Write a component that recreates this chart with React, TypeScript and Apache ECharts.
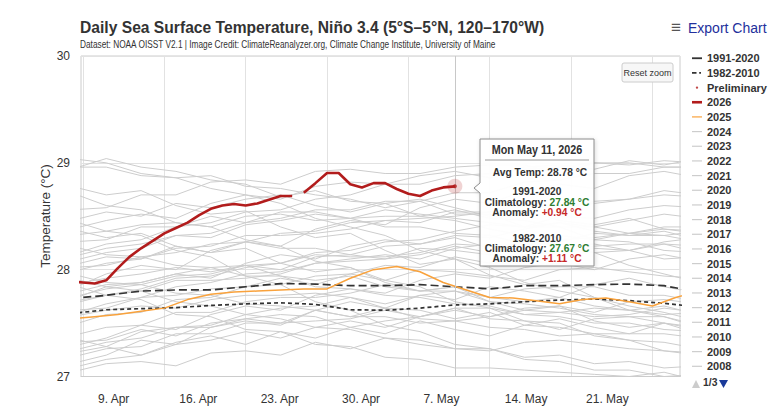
import React, { useEffect, useRef } from "react";
import * as echarts from "echarts";

const FONT = "'Liberation Sans', Arial, sans-serif";

// x values are days counted from 2 Apr (9 Apr = 7, 7 May = 35)
const tickDays = [7, 14, 21, 28, 35, 42, 49, 56];
const labelDays = [7, 14, 21, 28, 35, 42, 49];
const tickLabels = ["9. Apr", "16. Apr", "23. Apr", "30. Apr", "7. May", "14. May", "21. May"];

// 2026 daily means (a short break in the record between 27 and 28 Apr)
const days2026a = [6, 7, 8, 9, 10, 11, 12, 13, 14, 15, 16, 17, 18, 19, 20, 21, 22, 23, 24, 25];
const temp2026a = [27.89, 27.88, 27.87, 27.9, 28.015, 28.12, 28.2, 28.27, 28.34, 28.39, 28.44, 28.51, 28.57, 28.6, 28.615, 28.6, 28.62, 28.655, 28.69, 28.69];
const days2026b = [26, 27, 28, 29, 30, 31, 32, 33, 34, 35, 36, 37, 38, 39];
const temp2026b = [28.72, 28.81, 28.905, 28.905, 28.8, 28.77, 28.81, 28.81, 28.755, 28.71, 28.69, 28.74, 28.77, 28.78];

const days2025 = [6, 8, 10, 12, 14, 16, 18, 20, 22, 24, 26, 28, 30, 32, 34, 36, 38, 40, 42, 44, 46, 48, 50, 52, 54, 56, 58, 60];
const temp2025 = [27.54, 27.56, 27.58, 27.61, 27.64, 27.72, 27.77, 27.79, 27.8, 27.81, 27.82, 27.82, 27.92, 28.0, 28.03, 27.98, 27.88, 27.81, 27.74, 27.735, 27.71, 27.68, 27.72, 27.735, 27.7, 27.66, 27.74, 27.8];

// climatologies and past years share the same 3-day grid
const yearDays = [6, 9, 12, 15, 18, 21, 24, 27, 30, 33, 36, 39, 42, 45, 48, 51, 54, 57, 60];
const clim9120 = [27.73, 27.76, 27.8, 27.81, 27.81, 27.84, 27.87, 27.865, 27.85, 27.85, 27.86, 27.84, 27.82, 27.85, 27.85, 27.86, 27.865, 27.85, 27.79];
const clim8210 = [27.59, 27.625, 27.635, 27.645, 27.665, 27.68, 27.69, 27.675, 27.625, 27.62, 27.64, 27.67, 27.68, 27.7, 27.715, 27.725, 27.71, 27.685, 27.65];

const sst2024 = [28.78, 28.7, 28.74, 28.6, 28.52, 28.55, 28.4, 28.3, 28.34, 28.18, 28.05, 28.1, 27.95, 27.86, 27.9, 27.74, 27.66, 27.6, 27.52];
const sst2023 = [27.82, 27.96, 28.04, 28.0, 28.18, 28.26, 28.22, 28.38, 28.46, 28.42, 28.58, 28.66, 28.62, 28.74, 28.8, 28.76, 28.88, 28.92, 28.86];
const sst2022 = [27.22, 27.28, 27.2, 27.32, 27.38, 27.3, 27.42, 27.36, 27.46, 27.4, 27.52, 27.44, 27.38, 27.48, 27.54, 27.46, 27.4, 27.5, 27.44];
const sst2021 = [27.12, 27.2, 27.34, 27.3, 27.46, 27.52, 27.48, 27.62, 27.7, 27.64, 27.76, 27.72, 27.84, 27.8, 27.74, 27.86, 27.92, 27.84, 27.78];
const sst2020 = [28.38, 28.3, 28.34, 28.22, 28.16, 28.2, 28.06, 27.98, 28.02, 27.88, 27.8, 27.84, 27.7, 27.62, 27.66, 27.52, 27.46, 27.5, 27.4];
const sst2019 = [28.46, 28.54, 28.5, 28.62, 28.58, 28.66, 28.7, 28.6, 28.54, 28.62, 28.66, 28.58, 28.5, 28.56, 28.46, 28.42, 28.48, 28.38, 28.34];
const sst2018 = [27.28, 27.36, 27.48, 27.44, 27.58, 27.66, 27.62, 27.76, 27.82, 27.78, 27.9, 27.96, 27.92, 28.02, 28.06, 28.0, 28.1, 28.14, 28.08];
const sst2017 = [27.72, 27.84, 27.88, 27.96, 27.92, 28.06, 28.14, 28.1, 28.22, 28.28, 28.24, 28.32, 28.3, 28.38, 28.44, 28.4, 28.46, 28.52, 28.48];
const sst2016 = [29.04, 29.0, 28.9, 28.86, 28.76, 28.7, 28.62, 28.48, 28.4, 28.32, 28.18, 28.1, 28.02, 27.88, 27.8, 27.74, 27.62, 27.56, 27.46];
const sst2015 = [28.38, 28.46, 28.52, 28.48, 28.62, 28.7, 28.66, 28.78, 28.82, 28.8, 28.88, 28.92, 28.86, 28.96, 28.98, 28.94, 29.02, 28.98, 29.04];
const sst2014 = [28.12, 28.2, 28.24, 28.32, 28.3, 28.42, 28.46, 28.52, 28.48, 28.56, 28.52, 28.48, 28.44, 28.4, 28.44, 28.36, 28.32, 28.36, 28.28];
const sst2013 = [27.86, 27.92, 27.96, 28.02, 27.98, 28.04, 27.94, 27.9, 27.94, 27.84, 27.8, 27.84, 27.74, 27.7, 27.74, 27.66, 27.62, 27.66, 27.58];
const sst2012 = [27.58, 27.68, 27.74, 27.84, 27.88, 27.96, 27.98, 28.06, 28.1, 28.14, 28.1, 28.2, 28.24, 28.22, 28.32, 28.28, 28.34, 28.38, 28.36];
const sst2011 = [27.24, 27.32, 27.36, 27.46, 27.48, 27.58, 27.64, 27.66, 27.74, 27.68, 27.76, 27.8, 27.7, 27.68, 27.64, 27.58, 27.56, 27.5, 27.46];
const sst2010 = [28.72, 28.6, 28.56, 28.44, 28.4, 28.28, 28.22, 28.08, 28.02, 27.9, 27.84, 27.7, 27.64, 27.52, 27.5, 27.38, 27.34, 27.24, 27.22];
const sst2009 = [27.68, 27.76, 27.82, 27.92, 27.94, 28.02, 28.06, 28.16, 28.18, 28.26, 28.28, 28.36, 28.42, 28.4, 28.5, 28.48, 28.56, 28.6, 28.58];
const sst2008 = [27.08, 27.16, 27.2, 27.3, 27.34, 27.42, 27.36, 27.46, 27.52, 27.46, 27.56, 27.62, 27.56, 27.64, 27.66, 27.6, 27.7, 27.72, 27.68];
const sst2007 = [27.92, 27.84, 27.8, 27.7, 27.66, 27.58, 27.54, 27.46, 27.44, 27.36, 27.34, 27.26, 27.26, 27.18, 27.2, 27.12, 27.14, 27.08, 27.1];
const sst2006 = [27.48, 27.58, 27.6, 27.72, 27.74, 27.84, 27.86, 27.94, 27.96, 28.04, 28.02, 28.12, 28.06, 28.14, 28.16, 28.2, 28.18, 28.24, 28.22];
const sst2005 = [28.32, 28.36, 28.42, 28.44, 28.4, 28.5, 28.52, 28.46, 28.48, 28.4, 28.4, 28.34, 28.32, 28.24, 28.24, 28.16, 28.18, 28.1, 28.12];
const sst2004 = [27.78, 27.86, 27.88, 27.96, 28.02, 28.04, 28.0, 28.12, 28.14, 28.1, 28.2, 28.18, 28.14, 28.12, 28.2, 28.24, 28.18, 28.26, 28.3];
const sst2003 = [27.96, 27.88, 27.86, 27.78, 27.76, 27.68, 27.66, 27.62, 27.56, 27.56, 27.5, 27.52, 27.56, 27.62, 27.6, 27.56, 27.58, 27.64, 27.6];
const sst2002 = [28.02, 28.04, 28.12, 28.16, 28.24, 28.26, 28.34, 28.36, 28.44, 28.46, 28.44, 28.54, 28.54, 28.6, 28.6, 28.62, 28.66, 28.7, 28.68];
const sst2001 = [27.62, 27.64, 27.74, 27.76, 27.82, 27.84, 27.92, 27.86, 27.96, 27.9, 28.0, 27.98, 27.94, 27.9, 28.0, 28.02, 27.98, 27.94, 27.92];
const sst2000 = [27.18, 27.26, 27.28, 27.4, 27.4, 27.5, 27.5, 27.52, 27.54, 27.62, 27.56, 27.64, 27.64, 27.58, 27.6, 27.64, 27.62, 27.58, 27.6];
const sst1999 = [27.04, 27.12, 27.14, 27.1, 27.22, 27.24, 27.2, 27.32, 27.26, 27.36, 27.3, 27.26, 27.24, 27.32, 27.34, 27.3, 27.26, 27.24, 27.2];
const sst1998 = [28.46, 28.36, 28.32, 28.18, 28.12, 27.94, 27.86, 27.7, 27.62, 27.48, 27.42, 27.3, 27.26, 27.16, 27.14, 27.06, 27.06, 27.0, 27.02];
const sst1997 = [28.14, 28.24, 28.28, 28.4, 28.44, 28.54, 28.56, 28.66, 28.7, 28.8, 28.8, 28.88, 28.9, 28.94, 28.96, 29.0, 28.98, 29.02, 29.0];
const sst1996 = [27.32, 27.34, 27.44, 27.38, 27.5, 27.54, 27.5, 27.62, 27.56, 27.64, 27.54, 27.52, 27.46, 27.44, 27.38, 27.4, 27.34, 27.32, 27.26];
const sst1995 = [28.22, 28.14, 28.12, 28.04, 28.02, 27.94, 27.94, 27.84, 27.82, 27.76, 27.74, 27.68, 27.66, 27.58, 27.56, 27.5, 27.5, 27.44, 27.42];
const sst1994 = [27.74, 27.82, 27.86, 27.94, 27.96, 28.04, 28.06, 28.14, 28.12, 28.12, 28.16, 28.24, 28.22, 28.22, 28.26, 28.34, 28.32, 28.32, 28.36];
const sst1993 = [28.26, 28.28, 28.4, 28.4, 28.5, 28.44, 28.54, 28.54, 28.48, 28.5, 28.5, 28.56, 28.48, 28.46, 28.4, 28.4, 28.34, 28.32, 28.26];
const sst1992 = [28.96, 28.96, 28.88, 28.86, 28.88, 28.78, 28.76, 28.7, 28.66, 28.58, 28.64, 28.52, 28.52, 28.4, 28.4, 28.28, 28.26, 28.18, 28.16];
const sst1991 = [27.98, 28.06, 28.1, 28.2, 28.22, 28.32, 28.32, 28.34, 28.38, 28.46, 28.48, 28.5, 28.54, 28.62, 28.56, 28.64, 28.66, 28.74, 28.7];
const sst1990 = [28.04, 28.12, 28.1, 28.22, 28.16, 28.26, 28.2, 28.2, 28.14, 28.22, 28.24, 28.3, 28.2, 28.2, 28.14, 28.22, 28.24, 28.24, 28.16];
const sst1989 = [27.38, 27.46, 27.48, 27.6, 27.6, 27.7, 27.74, 27.74, 27.78, 27.86, 27.8, 27.8, 27.74, 27.82, 27.84, 27.84, 27.76, 27.76, 27.7];
const sst1988 = [27.86, 27.76, 27.72, 27.58, 27.56, 27.44, 27.42, 27.3, 27.28, 27.18, 27.16, 27.08, 27.08, 27.06, 27.04, 27.02, 27.0, 27.04, 26.96];
const sst1987 = [28.56, 28.58, 28.7, 28.7, 28.82, 28.84, 28.8, 28.92, 28.94, 28.9, 28.9, 28.96, 28.98, 28.98, 28.9, 29.0, 29.0, 28.96, 28.96];
const sst1986 = [27.7, 27.76, 27.8, 27.9, 27.9, 27.92, 27.96, 28.06, 28.08, 28.1, 28.14, 28.22, 28.16, 28.26, 28.28, 28.3, 28.34, 28.4, 28.4];
const sst1985 = [27.36, 27.28, 27.42, 27.46, 27.46, 27.54, 27.58, 27.56, 27.46, 27.52, 27.56, 27.64, 27.54, 27.52, 27.44, 27.54, 27.56, 27.56, 27.48];
const sst1984 = [27.56, 27.62, 27.66, 27.64, 27.72, 27.76, 27.76, 27.78, 27.74, 27.64, 27.62, 27.54, 27.6, 27.48, 27.46, 27.4, 27.4, 27.4, 27.36];
const sst1983 = [28.94, 29.04, 28.96, 28.92, 28.84, 28.8, 28.68, 28.74, 28.64, 28.62, 28.5, 28.46, 28.38, 28.32, 28.2, 28.16, 28.04, 27.96, 27.88];
const sst1982 = [28.08, 28.16, 28.2, 28.32, 28.34, 28.44, 28.48, 28.56, 28.56, 28.64, 28.64, 28.72, 28.72, 28.82, 28.84, 28.9, 28.9, 28.96, 28.96];

const pastYears: [string, number[]][] = [
  ["2024", sst2024], ["2023", sst2023], ["2022", sst2022], ["2021", sst2021], ["2020", sst2020],
  ["2019", sst2019], ["2018", sst2018], ["2017", sst2017], ["2016", sst2016], ["2015", sst2015],
  ["2014", sst2014], ["2013", sst2013], ["2012", sst2012], ["2011", sst2011], ["2010", sst2010],
  ["2009", sst2009], ["2008", sst2008], ["2007", sst2007], ["2006", sst2006], ["2005", sst2005],
  ["2004", sst2004], ["2003", sst2003], ["2002", sst2002], ["2001", sst2001], ["2000", sst2000],
  ["1999", sst1999], ["1998", sst1998], ["1997", sst1997], ["1996", sst1996], ["1995", sst1995],
  ["1994", sst1994], ["1993", sst1993], ["1992", sst1992], ["1991", sst1991], ["1990", sst1990],
  ["1989", sst1989], ["1988", sst1988], ["1987", sst1987], ["1986", sst1986], ["1985", sst1985],
  ["1984", sst1984], ["1983", sst1983], ["1982", sst1982],
];

// legend shows its first page of entries
const legendPage = 1;
const legendPageSize = 22;

const hoverDay = 39;
const hoverDate = "Mon May 11, 2026";

const TEXT = "#333333";
const RED = "#b21c1c";
const ORANGE = "#f9a23c";
const GRAY = "#cdcdcd";
const NAVY = "#1a3a9a";

// legend icons: each path keeps a 10x10 box so the mark keeps its own size
const ICON_THIN = "path://M0,0M10,10M0,4.4h10v1.2h-10z";
const ICON_MID = "path://M0,0M10,10M0,4.1h10v1.8h-10z";
const ICON_THICK = "path://M0,0M10,10M0,3.7h10v2.6h-10z";
const ICON_DASHDOT = "path://M0,0M10,10M0,4.1h4.5v1.8h-4.5zM7.2,4.1h1.8v1.8h-1.8z";
const ICON_DOT = "path://M0,0M10,10M3.8,5a1.2,1.2 0 1,0 2.4,0a1.2,1.2 0 1,0 -2.4,0z";

const pairs = (xs: number[], ys: number[]) => xs.map((x, i) => [x, ys[i]]);

export default function App() {
  const ref = useRef<HTMLDivElement>(null);

  useEffect(() => {
    if (!ref.current) return;
    const chart = echarts.init(ref.current, undefined, { renderer: "svg" });

    const avg = temp2026b[temp2026b.length - 1];
    const hi = yearDays.indexOf(hoverDay);
    const c1 = clim9120[hi];
    const c2 = clim8210[hi];
    const signed = (v: number) => (v >= 0 ? "+" : "") + v.toFixed(2);

    const pastSeries = pastYears.map(([year, temps]) => ({
      name: year,
      type: "line",
      data: pairs(yearDays, temps),
      symbol: "none",
      color: GRAY,
      lineStyle: { color: GRAY, width: 1 },
      silent: true,
      z: 1,
    }));

    const allEntries = [
      { name: "1991-2020", icon: ICON_MID },
      { name: "1982-2010", icon: ICON_DASHDOT },
      { name: "Preliminary", icon: ICON_DOT },
      { name: "2026", icon: ICON_THICK },
      { name: "2025", icon: ICON_THIN },
      ...pastYears.map(([y]) => ({ name: y, icon: ICON_THIN })),
    ];
    const legendPages = Math.ceil(allEntries.length / legendPageSize);
    const legendEntries = allEntries.slice((legendPage - 1) * legendPageSize, legendPage * legendPageSize);

    const bold = (size: number, fill: string) => ({
      fontFamily: FONT, fontSize: size, fontWeight: "bold", fill, color: fill,
    });
    const plainText = (
      x: number, y: number, text: string, size: number, fill: string,
      opts: { align?: string; weight?: string; scaleX?: number; rotation?: number; z?: number; rich?: any } = {}
    ) => ({
      type: "text",
      x, y,
      scaleX: opts.scaleX ?? 1,
      rotation: opts.rotation ?? 0,
      z: opts.z ?? 60,
      style: {
        text,
        x: 0, y: 0,
        fontFamily: FONT, fontSize: size, fontWeight: opts.weight ?? "normal",
        fill,
        align: opts.align ?? "left", verticalAlign: "middle",
        textAlign: opts.align ?? "left", textVerticalAlign: "middle",
        rich: opts.rich,
      },
    });
    const richStyle = {
      k: bold(11, TEXT),
      g: bold(11, "#2e7d32"),
      r: bold(11, "#c62828"),
    };
    const tip = (y: number, text: string, x = 537, scaleX = 0.93) =>
      plainText(x, y, text, 11, TEXT, { align: "center", weight: "bold", scaleX, z: 101, rich: richStyle });

    chart.setOption({
      animation: false,
      legend: {
        type: "plain",
        orient: "vertical",
        left: 692,
        top: 50.9,
        padding: 0,
        itemGap: 0,
        itemWidth: 10,
        itemHeight: 10,
        textStyle: { fontFamily: FONT, fontSize: 11, fontWeight: "bold", color: TEXT, lineHeight: 14.67 },
        data: legendEntries,
      },
      grid: {
        left: 81, top: 56, right: 100, bottom: 30.5,
        show: true, borderColor: "#cccccc", borderWidth: 1,
      },
      xAxis: {
        type: "value",
        min: 6.83,
        max: 58.37,
        axisLine: { show: true, lineStyle: { color: "#cccccc" } },
        axisTick: { show: false, customValues: tickDays },
        splitLine: { show: true, lineStyle: { color: "#e2e2e2", width: 1 } },
        axisLabel: {
          customValues: labelDays,
          formatter: (v: number) => tickLabels[labelDays.indexOf(Math.round(v))] ?? "",
          align: "left",
          padding: [0, 0, 0, 15],
          margin: 16,
          fontFamily: FONT,
          fontSize: 12,
          color: TEXT,
        },
      },
      yAxis: {
        type: "value",
        min: 27,
        max: 30,
        interval: 1,
        axisLine: { show: false },
        axisTick: { show: false },
        splitLine: { lineStyle: { color: "#e2e2e2" } },
        axisLabel: { fontFamily: FONT, fontSize: 12, color: TEXT, margin: 11 },
      },
      series: [
        ...pastSeries,
        {
          name: "1991-2020",
          type: "line",
          data: pairs(yearDays, clim9120),
          symbol: "none",
          color: "#333333",
          lineStyle: { color: "#333333", width: 1.7, type: [8, 4] },
          z: 3,
        },
        {
          name: "1982-2010",
          type: "line",
          data: pairs(yearDays, clim8210),
          symbol: "none",
          color: "#333333",
          lineStyle: { color: "#333333", width: 1.7, type: [4, 3] },
          z: 3,
        },
        {
          name: "2025",
          type: "line",
          data: pairs(days2025, temp2025),
          symbol: "none",
          color: ORANGE,
          lineStyle: { color: ORANGE, width: 1.5 },
          z: 4,
        },
        {
          name: "2026",
          type: "line",
          data: pairs(days2026a, temp2026a),
          symbol: "none",
          color: RED,
          lineStyle: { color: RED, width: 2.6 },
          z: 5,
        },
        {
          name: "2026",
          type: "line",
          data: pairs(days2026b, temp2026b),
          symbol: "none",
          color: RED,
          lineStyle: { color: RED, width: 2.6 },
          z: 5,
        },
        {
          name: "Preliminary",
          type: "scatter",
          data: [[days2026b[days2026b.length - 1], avg]],
          symbolSize: 4,
          color: RED,
          itemStyle: { color: RED },
          z: 7,
        },
        {
          name: "hover",
          type: "scatter",
          data: [[hoverDay, avg]],
          symbolSize: 15,
          itemStyle: { color: "rgba(178,34,34,0.25)" },
          silent: true,
          z: 6,
          markLine: {
            silent: true,
            symbol: ["none", "none"],
            label: { show: false },
            lineStyle: { color: "#c8c8c8", width: 1, type: "solid" },
            data: [{ xAxis: hoverDay }],
          },
        },
      ],
      graphic: [
        plainText(80, 27, "Daily Sea Surface Temperature, Niño 3.4 (5°S–5°N, 120–170°W)", 17, TEXT, { weight: "bold", scaleX: 0.92 }),
        plainText(80, 44.5, "Dataset: NOAA OISST V2.1 | Image Credit: ClimateReanalyzer.org, Climate Change Institute, University of Maine", 10, TEXT, { scaleX: 0.83 }),
        plainText(671, 27, "≡", 17, "#555555"),
        plainText(688, 27.5, "Export Chart", 14, "#23309c"),
        // y-axis title
        plainText(45, 216, "Temperature (°C)", 13.5, TEXT, { align: "center", rotation: Math.PI / 2 }),
        {
          type: "rect", z: 50,
          shape: { x: 622, y: 63, width: 51, height: 19, r: 2 },
          style: { fill: "#f7f7f7", stroke: "#cccccc", lineWidth: 1 },
        },
        plainText(647.5, 72.5, "Reset zoom", 9, TEXT, { align: "center", z: 51 }),
        // legend paging indicator
        {
          type: "polygon", z: 60,
          shape: { points: [[692, 388], [700, 388], [696, 380]] },
          style: { fill: legendPage > 1 ? NAVY : "#cccccc" },
        },
        plainText(703, 382, `${legendPage}/${legendPages}`, 11.5, TEXT, { weight: "bold", scaleX: 0.9 }),
        {
          type: "polygon", z: 60,
          shape: { points: [[719, 380], [728, 380], [723.5, 388]] },
          style: { fill: legendPage < legendPages ? NAVY : "#cccccc" },
        },
        // hover tooltip
        {
          type: "polygon", z: 100,
          shape: { points: [[480, 139], [594, 139], [594, 266], [480, 266], [480, 193], [474, 188], [480, 183]] },
          style: {
            fill: "rgba(255,255,255,0.96)", stroke: "#8c8c8c", lineWidth: 1,
            shadowBlur: 4, shadowColor: "rgba(0,0,0,0.15)", shadowOffsetX: 1, shadowOffsetY: 1,
          },
        },
        plainText(537, 149.5, hoverDate, 12, TEXT, { align: "center", weight: "bold", scaleX: 0.9, z: 101 }),
        {
          type: "line", z: 101,
          shape: { x1: 485, y1: 160, x2: 589, y2: 160 },
          style: { stroke: "#9a9a9a", lineWidth: 1 },
        },
        tip(171.5, `{k|Avg Temp: ${avg.toFixed(2)} °C}`, 540),
        tip(191, "{k|1991-2020}"),
        tip(201.5, `{k|Climatology: }{g|${c1.toFixed(2)} °C}`),
        tip(211.5, `{k|Anomaly: }{r|${signed(avg - c1)} °C}`),
        tip(237.5, "{k|1982-2010}"),
        tip(248, `{k|Climatology: }{g|${c2.toFixed(2)} °C}`),
        tip(258.3, `{k|Anomaly: }{r|${signed(avg - c2)} °C}`),
      ],
    });

    return () => chart.dispose();
  }, []);

  return (
    <div
      ref={ref}
      style={{ position: "fixed", left: 0, top: 0, width: 780, height: 407, background: "#ffffff" }}
    />
  );
}
